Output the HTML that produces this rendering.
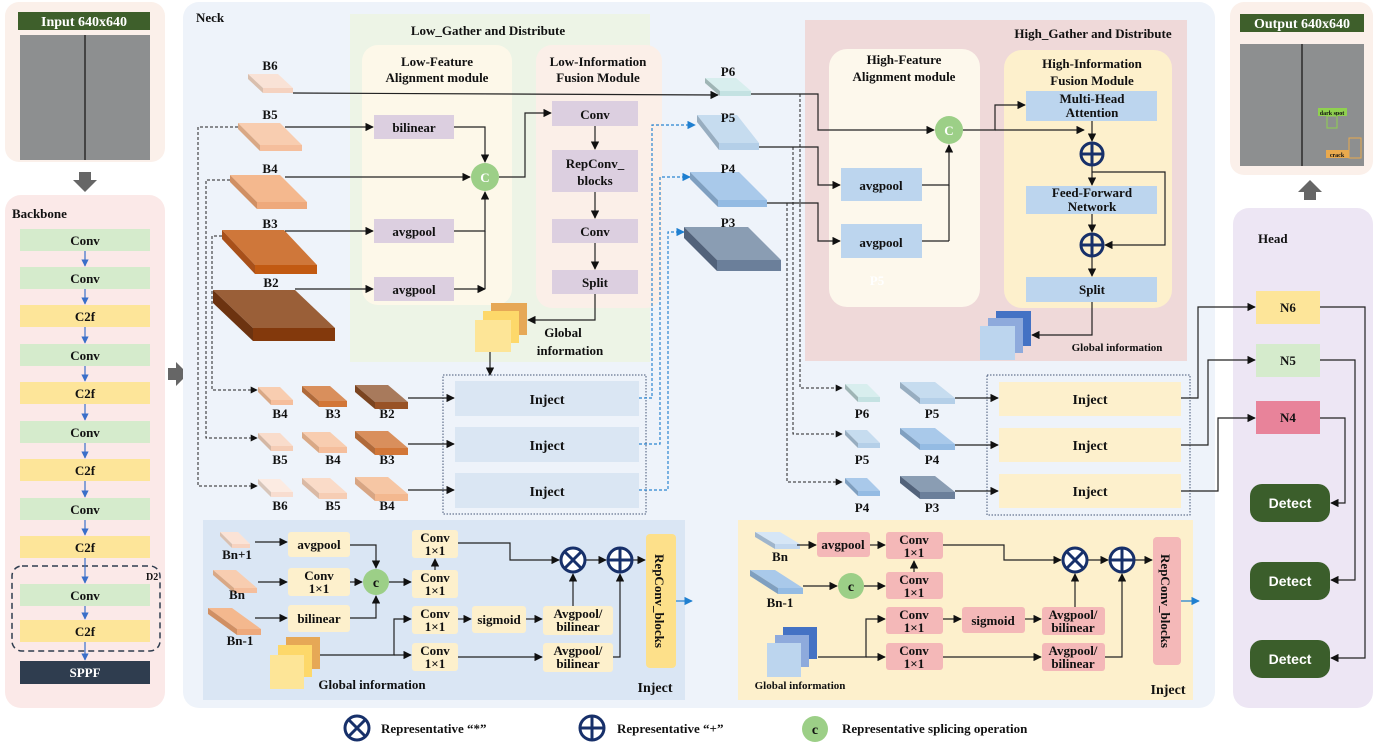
<!DOCTYPE html>
<html><head><meta charset="utf-8"><style>
body{margin:0;background:#fff}
svg{display:block}
text{font-family:"Liberation Serif",serif;font-weight:bold;fill:#111}
.s{font-size:13px}
.m{font-size:14px}
.c{text-anchor:middle}
.ln{stroke:#222;stroke-width:1.2;fill:none}
.dl{stroke:#222;stroke-width:1;fill:none;stroke-dasharray:3,2}
.bl{stroke:#2a85d0;stroke-width:1.2;fill:none;stroke-dasharray:3,2}
</style></head><body>
<svg width="1378" height="749" viewBox="0 0 1378 749" xmlns="http://www.w3.org/2000/svg">
<defs>
<marker id="a" viewBox="0 0 10 10" refX="9" refY="5" markerWidth="7" markerHeight="7" orient="auto"><path d="M0,0L10,5L0,10z" fill="#111"/></marker>
<marker id="b" viewBox="0 0 10 10" refX="9" refY="5" markerWidth="7" markerHeight="7" orient="auto"><path d="M0,0L10,5L0,10z" fill="#1f7fd0"/></marker>
<marker id="g" viewBox="0 0 10 10" refX="9" refY="5" markerWidth="6" markerHeight="6" orient="auto"><path d="M0,0L10,5L0,10z" fill="#3a6fc9"/></marker>
</defs>
<rect width="1378" height="749" fill="#fff"/>

<!-- Input -->
<rect x="5" y="2" width="160" height="160" rx="14" fill="#fbf0ea"/>
<rect x="18" y="12" width="132" height="18" fill="#3e5f2b"/>
<text x="84" y="26" class="m c" style="fill:#fff">Input 640x640</text>
<rect x="20" y="35" width="130" height="125" fill="#8d8f90"/>
<line x1="85" y1="35" x2="85" y2="160" stroke="#444" stroke-width="2"/>
<polygon points="79,172 91,172 91,180 97,180 85,192 73,180 79,180" fill="#666"/>

<!-- Backbone -->
<rect x="5" y="195" width="160" height="513" rx="16" fill="#fbe9e8"/>
<text x="12" y="218" class="s">Backbone</text>
<g class="s c">
<rect x="20" y="229" width="130" height="22" fill="#d5ebcc"/><text x="85" y="245">Conv</text>
<rect x="20" y="267" width="130" height="22" fill="#d5ebcc"/><text x="85" y="283">Conv</text>
<rect x="20" y="305" width="130" height="22" fill="#fde599"/><text x="85" y="321">C2f</text>
<rect x="20" y="344" width="130" height="22" fill="#d5ebcc"/><text x="85" y="360">Conv</text>
<rect x="20" y="382" width="130" height="22" fill="#fde599"/><text x="85" y="398">C2f</text>
<rect x="20" y="421" width="130" height="22" fill="#d5ebcc"/><text x="85" y="437">Conv</text>
<rect x="20" y="459" width="130" height="22" fill="#fde599"/><text x="85" y="475">C2f</text>
<rect x="20" y="498" width="130" height="22" fill="#d5ebcc"/><text x="85" y="514">Conv</text>
<rect x="20" y="536" width="130" height="22" fill="#fde599"/><text x="85" y="552">C2f</text>
<rect x="20" y="584" width="130" height="22" fill="#d5ebcc"/><text x="85" y="600">Conv</text>
<rect x="20" y="620" width="130" height="22" fill="#fde599"/><text x="85" y="636">C2f</text>
<rect x="20" y="661" width="130" height="23" fill="#2f3d4f"/><text x="85" y="677" style="fill:#fff">SPPF</text>
</g>
<rect x="12" y="566" width="148" height="85" rx="10" fill="none" stroke="#2f3d4f" stroke-width="1.5" stroke-dasharray="6,4"/>
<text x="146" y="580" style="font-size:10px">D2</text>
<g stroke="#3a6fc9" stroke-width="1.2" marker-end="url(#g)">
<line x1="85" y1="251" x2="85" y2="266"/><line x1="85" y1="289" x2="85" y2="304"/><line x1="85" y1="327" x2="85" y2="343"/><line x1="85" y1="366" x2="85" y2="381"/><line x1="85" y1="404" x2="85" y2="420"/><line x1="85" y1="443" x2="85" y2="458"/><line x1="85" y1="481" x2="85" y2="497"/><line x1="85" y1="520" x2="85" y2="535"/><line x1="85" y1="558" x2="85" y2="583"/><line x1="85" y1="606" x2="85" y2="619"/><line x1="85" y1="642" x2="85" y2="660"/>
</g>
<polygon points="168,368 176,368 176,362 188,374 176,386 176,380 168,380" fill="#666"/>

<!-- Neck -->
<rect x="183" y="2" width="1032" height="706" rx="16" fill="#eef3fa"/>
<text x="196" y="22" class="s">Neck</text>
<rect x="350" y="14" width="300" height="348" fill="#edf4e6"/>
<text x="488" y="35" class="s" style="text-anchor:middle">Low_Gather and Distribute</text>
<rect x="362" y="45" width="150" height="260" rx="16" fill="#fdf8e9"/>
<text x="437" y="66" class="s c">Low-Feature</text><text x="437" y="82" class="s c">Alignment module</text>
<rect x="536" y="45" width="126" height="263" rx="16" fill="#fbefe8"/>
<text x="598" y="66" class="s c">Low-Information</text><text x="598" y="82" class="s c">Fusion Module</text>
<g fill="#dccfe0">
<rect x="374" y="115" width="80" height="24"/><rect x="374" y="219" width="80" height="24"/><rect x="374" y="277" width="80" height="24"/>
<rect x="552" y="101" width="86" height="25"/><rect x="552" y="150" width="86" height="42"/><rect x="552" y="219" width="86" height="24"/><rect x="552" y="270" width="86" height="24"/>
</g>
<g class="s c">
<text x="414" y="132">bilinear</text><text x="414" y="236">avgpool</text><text x="414" y="294">avgpool</text>
<text x="595" y="119">Conv</text><text x="595" y="168">RepConv_</text><text x="595" y="185">blocks</text><text x="595" y="236">Conv</text><text x="595" y="287">Split</text>
</g>
<circle cx="485" cy="177" r="14" fill="#9ccf87"/><text x="485" y="182" class="s c" style="fill:#fff">C</text>

<!-- B slabs -->
<g>
<polygon points="248,74 278,74 293,88 263,88" fill="#f9e2d6"/><rect x="263" y="88" width="30" height="5" fill="#f5d2c0"/><polygon points="248,74 263,88 263,93 248,79" fill="#d9bfae"/>
<polygon points="238,123 280,123 302,145 260,145" fill="#f8cdb0"/><rect x="260" y="145" width="42" height="6" fill="#f5be9c"/><polygon points="238,123 260,145 260,151 238,129" fill="#d9a885"/>
<polygon points="230,175 280,175 307,202 257,202" fill="#f4b88e"/><rect x="257" y="202" width="50" height="7" fill="#eea97c"/><polygon points="230,175 257,202 257,209 230,182" fill="#d08f63"/>
<polygon points="222,230 284,230 317,265 255,265" fill="#cf773a"/><rect x="255" y="265" width="62" height="9" fill="#c25a12"/><polygon points="222,230 255,265 255,274 222,239" fill="#a8501a"/>
<polygon points="213,290 295,290 335,328 253,328" fill="#9a5f38"/><rect x="253" y="328" width="82" height="13" fill="#83390c"/><polygon points="213,290 253,328 253,341 213,303" fill="#6c3310"/>
</g>
<g class="s c"><text x="270" y="70">B6</text><text x="270" y="119">B5</text><text x="270" y="173">B4</text><text x="270" y="228">B3</text><text x="271" y="287">B2</text></g>

<!-- low lines -->
<g class="ln" marker-end="url(#a)">
<polyline points="293,93 718,95"/>
<polyline points="285,127 373,127"/>
<polyline points="285,177 470,177"/>
<polyline points="285,231 373,231"/>
<polyline points="295,289 373,289"/>
<polyline points="454,127 485,127 485,162"/>
<polyline points="454,231 485,231 485,192"/>
<polyline points="454,289 485,289"/>
<polyline points="499,177 525,177 525,113 551,113"/>
<polyline points="595,126 595,149"/><polyline points="595,192 595,218"/><polyline points="595,243 595,269"/>
<polyline points="595,294 595,320 528,320"/>
<polyline points="490,352 490,375"/>
</g>
<line x1="485" y1="289" x2="485" y2="231" class="ln"/>
<!-- global info yellow -->
<rect x="491" y="303" width="36" height="32" fill="#e6a856"/><rect x="483" y="311" width="36" height="32" fill="#fdd86a"/><rect x="475" y="320" width="36" height="32" fill="#fde597"/>
<text x="563" y="337" class="s c">Global</text><text x="570" y="355" class="s c">information</text>

<!-- dashed left -->
<g class="dl" marker-end="url(#a)">
<polyline points="238,127 198,127 198,486 257,486"/>
<polyline points="230,180 206,180 206,438 257,438"/>
<polyline points="222,236 212,236 212,390 257,390"/>
</g>
<!-- small slabs -->
<g>
<polygon points="258,387 280,387 293,400 271,400" fill="#f8cdb0"/><rect x="271" y="400" width="22" height="5" fill="#f5be9c"/><polygon points="258,387 271,400 271,405 258,392" fill="#d9a885"/>
<polygon points="302,386 330,386 347,401 319,401" fill="#d98f5c"/><rect x="319" y="401" width="28" height="6" fill="#d27637"/><polygon points="302,386 319,401 319,407 302,392" fill="#b06a3a"/>
<polygon points="355,385 388,385 408,402 375,402" fill="#a87a5c"/><rect x="375" y="402" width="33" height="7" fill="#985226"/><polygon points="355,385 375,402 375,409 355,392" fill="#7a4420"/>
<polygon points="258,433 280,433 293,446 271,446" fill="#f9dccb"/><rect x="271" y="446" width="22" height="5" fill="#f5cdb6"/><polygon points="258,433 271,446 271,451 258,438" fill="#d4b7a4"/>
<polygon points="302,432 330,432 347,447 319,447" fill="#f8cdb0"/><rect x="319" y="447" width="28" height="6" fill="#f5be9c"/><polygon points="302,432 319,447 319,453 302,438" fill="#d9a885"/>
<polygon points="355,431 388,431 408,448 375,448" fill="#d98f5c"/><rect x="375" y="448" width="33" height="7" fill="#d27637"/><polygon points="355,431 375,448 375,455 355,438" fill="#b06a3a"/>
<polygon points="258,479 280,479 293,492 271,492" fill="#fcebe2"/><rect x="271" y="492" width="22" height="5" fill="#f8ddd0"/><polygon points="258,479 271,492 271,497 258,484" fill="#d8c6ba"/>
<polygon points="302,478 330,478 347,493 319,493" fill="#fadbc8"/><rect x="319" y="493" width="28" height="6" fill="#f6cdb4"/><polygon points="302,478 319,493 319,499 302,484" fill="#dab9a4"/>
<polygon points="355,477 388,477 408,494 375,494" fill="#f6c6a4"/><rect x="375" y="494" width="33" height="7" fill="#f3b88f"/><polygon points="355,477 375,494 375,501 355,484" fill="#d8a583"/>
</g>
<g class="s c">
<text x="280" y="418">B4</text><text x="333" y="418">B3</text><text x="387" y="418">B2</text>
<text x="280" y="464">B5</text><text x="333" y="464">B4</text><text x="387" y="464">B3</text>
<text x="280" y="510">B6</text><text x="333" y="510">B5</text><text x="387" y="510">B4</text>
</g>
<rect x="443" y="375" width="203" height="139" fill="none" stroke="#445577" stroke-width="1" stroke-dasharray="1.5,1.5"/>
<g fill="#dae6f3"><rect x="455" y="381" width="184" height="35"/><rect x="455" y="427" width="184" height="35"/><rect x="455" y="473" width="184" height="35"/></g>
<g class="m c"><text x="547" y="404">Inject</text><text x="547" y="450">Inject</text><text x="547" y="496">Inject</text></g>
<g class="ln" marker-end="url(#a)"><line x1="408" y1="398" x2="454" y2="398"/><line x1="408" y1="444" x2="454" y2="444"/><line x1="408" y1="490" x2="454" y2="490"/></g>
<g class="bl" marker-end="url(#b)">
<polyline points="639,398 652,398 652,125 695,125"/>
<polyline points="639,444 660,444 660,177 690,177"/>
<polyline points="639,490 668,490 668,232 684,232"/>
</g>

<!-- P slabs -->
<polygon points="705,78 736,78 751,91 720,91" fill="#d8eeee"/><rect x="720" y="91" width="31" height="5" fill="#c4e2e2"/><polygon points="705,78 720,91 720,96 705,83" fill="#9fb5b5"/>
<polygon points="697,115 737,115 759,143 719,143" fill="#c6dcef"/><rect x="719" y="143" width="40" height="7" fill="#b4cfe8"/><polygon points="697,115 719,143 719,150 697,122" fill="#97adc0"/>
<polygon points="690,172 739,172 767,200 718,200" fill="#a9c9ea"/><rect x="718" y="200" width="49" height="7" fill="#94bbe3"/><polygon points="690,172 718,200 718,207 690,179" fill="#7f9fc0"/>
<polygon points="684,227 748,227 781,260 717,260" fill="#8a9db3"/><rect x="717" y="260" width="64" height="11" fill="#6b7f9a"/><polygon points="684,227 717,260 717,271 684,238" fill="#52627a"/>
<g class="s c"><text x="728" y="76">P6</text><text x="728" y="122">P5</text><text x="728" y="173">P4</text><text x="728" y="227">P3</text></g>

<!-- High G&D -->
<rect x="805" y="20" width="382" height="341" fill="#efd9d9"/>
<text x="1093" y="38" class="s c">High_Gather and Distribute</text>
<rect x="829" y="49" width="151" height="258" rx="18" fill="#fdf8ec"/>
<text x="904" y="64" class="s c">High-Feature</text><text x="904" y="81" class="s c">Alignment module</text>
<text x="877" y="285" class="s c" style="fill:#fff">P5</text>
<rect x="1004" y="50" width="168" height="258" rx="18" fill="#fdf0cc"/>
<text x="1092" y="68" class="s c">High-Information</text><text x="1092" y="85" class="s c">Fusion Module</text>
<g fill="#bcd5ee"><rect x="1026" y="91" width="131" height="30"/><rect x="1026" y="186" width="131" height="28"/><rect x="1026" y="277" width="131" height="25"/><rect x="841" y="168" width="81" height="33"/><rect x="841" y="224" width="81" height="34"/></g>
<g class="s c"><text x="1092" y="103">Multi-Head</text><text x="1092" y="117">Attention</text><text x="1092" y="197">Feed-Forward</text><text x="1092" y="211">Network</text><text x="1092" y="294">Split</text><text x="881" y="190">avgpool</text><text x="881" y="247">avgpool</text></g>
<circle cx="949" cy="130" r="14" fill="#9ccf87"/><text x="949" y="135" class="s c" style="fill:#fff">C</text>
<g class="ln" marker-end="url(#a)">
<polyline points="751,94 818,94 818,130 934,130"/>
<polyline points="759,147 818,147 818,185 840,185"/>
<polyline points="767,203 818,203 818,241 840,241"/>
<polyline points="922,185 949,185 949,145"/>
<polyline points="963,130 995,130 995,105 1025,105"/>
<polyline points="995,130 1084,130"/>
<polyline points="1092,121 1092,141"/>
<polyline points="1092,166 1092,185"/>
<polyline points="1092,172 1165,172 1165,245 1105,245"/>
<polyline points="1092,214 1092,232"/>
<polyline points="1092,257 1092,276"/>
<polyline points="1092,302 1092,335 1032,335"/>
</g>
<line x1="922" y1="241" x2="949" y2="241" class="ln"/><line x1="949" y1="241" x2="949" y2="185" class="ln"/>
<g fill="#fdf0cc" stroke="#17306a" stroke-width="3"><circle cx="1092" cy="154" r="11"/><circle cx="1092" cy="245" r="11"/></g>
<g stroke="#17306a" stroke-width="3"><line x1="1081" y1="154" x2="1103" y2="154"/><line x1="1092" y1="143" x2="1092" y2="165"/><line x1="1081" y1="245" x2="1103" y2="245"/><line x1="1092" y1="234" x2="1092" y2="256"/></g>
<rect x="996" y="311" width="35" height="35" fill="#4472c4"/><rect x="988" y="318" width="35" height="35" fill="#8eaadc"/><rect x="980" y="326" width="35" height="34" fill="#bcd5ee"/>
<text x="1117" y="351" style="font-size:11px" class="c">Global information</text>

<!-- right dashed -->
<g class="dl" stroke-dasharray="2,2" marker-end="url(#a)">
<polyline points="800,94 800,388 842,388"/>
<polyline points="793,147 793,434 842,434"/>
<polyline points="787,203 787,482 842,482"/>
</g>
<g>
<polygon points="845,384 867,384 880,397 858,397" fill="#d8eeee"/><rect x="858" y="397" width="22" height="5" fill="#c4e2e2"/><polygon points="845,384 858,397 858,402 845,389" fill="#9fb5b5"/>
<polygon points="900,382 935,382 955,398 920,398" fill="#c6dcef"/><rect x="920" y="398" width="35" height="6" fill="#b4cfe8"/><polygon points="900,382 920,398 920,404 900,388" fill="#97adc0"/>
<polygon points="845,430 867,430 880,443 858,443" fill="#c6dcef"/><rect x="858" y="443" width="22" height="5" fill="#b4cfe8"/><polygon points="845,430 858,443 858,448 845,435" fill="#97adc0"/>
<polygon points="900,428 935,428 955,444 920,444" fill="#a9c9ea"/><rect x="920" y="444" width="35" height="6" fill="#94bbe3"/><polygon points="900,428 920,444 920,450 900,434" fill="#7f9fc0"/>
<polygon points="845,478 867,478 880,491 858,491" fill="#a9c9ea"/><rect x="858" y="491" width="22" height="5" fill="#94bbe3"/><polygon points="845,478 858,491 858,496 845,483" fill="#7f9fc0"/>
<polygon points="900,476 935,476 955,492 920,492" fill="#8a9db3"/><rect x="920" y="492" width="35" height="7" fill="#6b7f9a"/><polygon points="900,476 920,492 920,499 900,483" fill="#52627a"/>
</g>
<g class="s c"><text x="862" y="418">P6</text><text x="932" y="418">P5</text><text x="862" y="464">P5</text><text x="932" y="464">P4</text><text x="862" y="512">P4</text><text x="932" y="512">P3</text></g>
<rect x="987" y="375" width="203" height="140" fill="none" stroke="#445577" stroke-width="1" stroke-dasharray="1.5,1.5"/>
<g fill="#fdf0cc"><rect x="999" y="382" width="182" height="34"/><rect x="999" y="428" width="182" height="34"/><rect x="999" y="474" width="182" height="34"/></g>
<g class="m c"><text x="1090" y="404">Inject</text><text x="1090" y="450">Inject</text><text x="1090" y="496">Inject</text></g>
<g class="ln" marker-end="url(#a)"><line x1="955" y1="398" x2="998" y2="398"/><line x1="955" y1="445" x2="998" y2="445"/><line x1="955" y1="491" x2="998" y2="491"/></g>

<!-- Bottom-left inject -->
<rect x="203" y="520" width="482" height="180" fill="#dae6f4"/>
<polygon points="220,532 238,532 250,544 232,544" fill="#fbe3d6"/><rect x="232" y="544" width="18" height="4" fill="#f7d3c0"/><polygon points="220,532 232,544 232,548 220,536" fill="#d9c0b0"/>
<polygon points="213,570 236,570 257,588 234,588" fill="#f8cdb0"/><rect x="234" y="588" width="23" height="5" fill="#f5be9c"/><polygon points="213,570 234,588 234,593 213,575" fill="#d9a885"/>
<polygon points="208,608 232,608 261,629 237,629" fill="#f4b88e"/><rect x="237" y="629" width="24" height="6" fill="#eea97c"/><polygon points="208,608 237,629 237,635 208,614" fill="#d08f63"/>
<g class="s c"><text x="237" y="559">Bn+1</text><text x="237" y="599">Bn</text><text x="240" y="645">Bn-1</text></g>
<g fill="#fdf0cc">
<rect x="288" y="532" width="62" height="25" rx="3"/><rect x="288" y="568" width="62" height="28" rx="3"/><rect x="288" y="605" width="62" height="27" rx="3"/>
<rect x="412" y="530" width="46" height="28" rx="3"/><rect x="412" y="570" width="46" height="28" rx="3"/><rect x="412" y="606" width="46" height="28" rx="3"/><rect x="412" y="643" width="46" height="28" rx="3"/>
<rect x="472" y="606" width="54" height="27" rx="3"/><rect x="543" y="606" width="70" height="29" rx="3"/><rect x="543" y="643" width="70" height="29" rx="3"/>
</g>
<rect x="646" y="534" width="30" height="134" rx="4" fill="#fde08a"/>
<text transform="translate(655,601) rotate(90)" class="s c">RepConv_blocks</text>
<g class="s c">
<text x="319" y="549">avgpool</text><text x="319" y="580">Conv</text><text x="319" y="593">1×1</text><text x="319" y="623">bilinear</text>
<text x="435" y="542">Conv</text><text x="435" y="555">1×1</text><text x="435" y="582">Conv</text><text x="435" y="595">1×1</text>
<text x="435" y="618">Conv</text><text x="435" y="631">1×1</text><text x="435" y="655">Conv</text><text x="435" y="668">1×1</text>
<text x="499" y="624">sigmoid</text><text x="578" y="618">Avgpool/</text><text x="578" y="631">bilinear</text><text x="578" y="655">Avgpool/</text><text x="578" y="668">bilinear</text>
</g>
<circle cx="376" cy="582" r="13" fill="#9ccf87"/><text x="376" y="587" class="m c">c</text>
<rect x="286" y="637" width="34" height="32" fill="#e6a856"/><rect x="278" y="645" width="34" height="32" fill="#fdd86a"/><rect x="270" y="655" width="34" height="34" fill="#fde597"/>
<text x="372" y="689" class="s c">Global information</text>
<text x="655" y="692" class="m c">Inject</text>
<g class="ln" marker-end="url(#a)">
<line x1="255" y1="542" x2="287" y2="542"/><line x1="258" y1="582" x2="287" y2="582"/><line x1="255" y1="618" x2="287" y2="618"/>
<polyline points="350,545 376,545 376,568"/><line x1="350" y1="582" x2="362" y2="582"/><polyline points="350,618 376,618 376,596"/>
<line x1="389" y1="582" x2="411" y2="582"/><line x1="435" y1="570" x2="435" y2="559"/>
<polyline points="458,543 510,543 510,560 559,560"/>
<line x1="586" y1="560" x2="606" y2="560"/><line x1="633" y1="560" x2="645" y2="560"/>
<polyline points="320,655 394,655 394,619 411,619"/><line x1="394" y1="655" x2="411" y2="655"/>
<line x1="458" y1="619" x2="471" y2="619"/><line x1="526" y1="619" x2="542" y2="619"/>
<line x1="573" y1="606" x2="573" y2="574"/>
<line x1="458" y1="657" x2="542" y2="657"/>
<polyline points="613,657 620,657 620,574"/>
</g>
<g fill="#fff" stroke="#17306a" stroke-width="3"><circle cx="573" cy="560" r="12"/><circle cx="620" cy="560" r="12"/></g>
<g stroke="#17306a" stroke-width="3"><line x1="565" y1="552" x2="581" y2="568"/><line x1="581" y1="552" x2="565" y2="568"/><line x1="608" y1="560" x2="632" y2="560"/><line x1="620" y1="548" x2="620" y2="572"/></g>
<line x1="676" y1="601" x2="692" y2="601" stroke="#1f7fd0" stroke-width="1.2" marker-end="url(#b)"/>

<!-- Bottom-right inject -->
<rect x="738" y="520" width="455" height="180" fill="#fdf0cc"/>
<polygon points="755,532 780,532 800,544 775,544" fill="#d6e6f6"/><rect x="775" y="544" width="25" height="5" fill="#c3d8ef"/><polygon points="755,532 775,544 775,549 755,537" fill="#9fb5cc"/>
<polygon points="750,570 775,570 803,588 778,588" fill="#a9c9ea"/><rect x="778" y="588" width="25" height="6" fill="#94bbe3"/><polygon points="750,570 778,588 778,594 750,576" fill="#7f9fc0"/>
<g class="s c"><text x="780" y="561">Bn</text><text x="780" y="607">Bn-1</text></g>
<g fill="#f4b8b8">
<rect x="817" y="532" width="53" height="25" rx="3"/><rect x="886" y="532" width="57" height="27" rx="3"/><rect x="886" y="572" width="57" height="27" rx="3"/><rect x="886" y="607" width="57" height="27" rx="3"/><rect x="886" y="643" width="57" height="27" rx="3"/>
<rect x="962" y="607" width="63" height="26" rx="3"/><rect x="1042" y="607" width="63" height="28" rx="3"/><rect x="1042" y="643" width="63" height="28" rx="3"/>
<rect x="1153" y="537" width="28" height="128" rx="4"/>
</g>
<text transform="translate(1161,601) rotate(90)" class="s c">RepConv_blocks</text>
<g class="s c">
<text x="843" y="549">avgpool</text>
<text x="914" y="544">Conv</text><text x="914" y="557">1×1</text><text x="914" y="584">Conv</text><text x="914" y="597">1×1</text>
<text x="914" y="619">Conv</text><text x="914" y="632">1×1</text><text x="914" y="655">Conv</text><text x="914" y="668">1×1</text>
<text x="993" y="625">sigmoid</text><text x="1073" y="619">Avgpool/</text><text x="1073" y="632">bilinear</text><text x="1073" y="655">Avgpool/</text><text x="1073" y="668">bilinear</text>
</g>
<circle cx="851" cy="586" r="13" fill="#9ccf87"/><text x="851" y="591" class="m c">c</text>
<rect x="783" y="627" width="34" height="32" fill="#4472c4"/><rect x="775" y="635" width="34" height="32" fill="#8eaadc"/><rect x="767" y="643" width="34" height="34" fill="#bcd5ee"/>
<text x="800" y="689" style="font-size:11px" class="c">Global information</text>
<text x="1168" y="694" class="m c">Inject</text>
<g class="ln" marker-end="url(#a)">
<line x1="797" y1="545" x2="816" y2="545"/><line x1="870" y1="545" x2="885" y2="545"/>
<line x1="803" y1="586" x2="837" y2="586"/><line x1="864" y1="586" x2="885" y2="586"/>
<line x1="914" y1="572" x2="914" y2="561"/>
<polyline points="943,545 1004,545 1004,560 1061,560"/>
<line x1="1088" y1="560" x2="1108" y2="560"/><line x1="1135" y1="560" x2="1152" y2="560"/>
<polyline points="818,657 866,657 866,619 885,619"/><line x1="866" y1="657" x2="885" y2="657"/>
<line x1="943" y1="619" x2="961" y2="619"/><line x1="1025" y1="619" x2="1041" y2="619"/>
<line x1="1075" y1="607" x2="1075" y2="574"/>
<line x1="943" y1="657" x2="1041" y2="657"/>
<polyline points="1105,657 1122,657 1122,574"/>
</g>
<g fill="#fff" stroke="#17306a" stroke-width="3"><circle cx="1075" cy="560" r="12"/><circle cx="1122" cy="560" r="12"/></g>
<g stroke="#17306a" stroke-width="3"><line x1="1067" y1="552" x2="1083" y2="568"/><line x1="1083" y1="552" x2="1067" y2="568"/><line x1="1110" y1="560" x2="1134" y2="560"/><line x1="1122" y1="548" x2="1122" y2="572"/></g>
<line x1="1181" y1="601" x2="1199" y2="601" stroke="#1f7fd0" stroke-width="1.2" marker-end="url(#b)"/>

<!-- Output -->
<rect x="1230" y="2" width="143" height="173" rx="14" fill="#fbf0ea"/>
<rect x="1240" y="14" width="124" height="18" fill="#3e5f2b"/>
<text x="1302" y="28" class="m c" style="fill:#fff">Output 640x640</text>
<rect x="1240" y="44" width="124" height="122" fill="#8d8f90"/>
<line x1="1302" y1="44" x2="1302" y2="166" stroke="#444" stroke-width="2"/>
<rect x="1318" y="108" width="29" height="8" fill="#8fd14f"/><text x="1332" y="115" style="font-size:6px" class="c">dark spot</text>
<rect x="1327" y="116" width="10" height="12" fill="none" stroke="#8fd14f"/>
<rect x="1326" y="150" width="23" height="8" fill="#e9a94d"/><text x="1337" y="157" style="font-size:6px" class="c">crack</text>
<rect x="1349" y="138" width="12" height="20" fill="none" stroke="#e9a94d"/>
<polygon points="1310,180 1322,192 1316,192 1316,200 1304,200 1304,192 1298,192" fill="#666"/>

<!-- Head -->
<rect x="1233" y="208" width="140" height="500" rx="16" fill="#ede6f4"/>
<text x="1258" y="243" class="s">Head</text>
<rect x="1256" y="291" width="64" height="33" fill="#fde599"/><text x="1288" y="312" class="s c">N6</text>
<rect x="1256" y="344" width="64" height="33" fill="#d5ebcc"/><text x="1288" y="365" class="s c">N5</text>
<rect x="1256" y="401" width="64" height="33" fill="#e8839a"/><text x="1288" y="422" class="s c">N4</text>
<g fill="#3b5e2b"><rect x="1250" y="484" width="80" height="38" rx="12"/><rect x="1250" y="562" width="80" height="38" rx="12"/><rect x="1250" y="640" width="80" height="38" rx="12"/></g>
<g style="font-family:'Liberation Sans',sans-serif;font-size:14px" class="c"><text x="1290" y="508" style="fill:#fff;font-family:'Liberation Sans',sans-serif">Detect</text><text x="1290" y="586" style="fill:#fff;font-family:'Liberation Sans',sans-serif">Detect</text><text x="1290" y="664" style="fill:#fff;font-family:'Liberation Sans',sans-serif">Detect</text></g>
<g class="ln" marker-end="url(#a)">
<polyline points="1181,398 1198,398 1198,307 1255,307"/>
<polyline points="1181,445 1208,445 1208,360 1255,360"/>
<polyline points="1181,491 1218,491 1218,418 1255,418"/>
<polyline points="1320,307 1365,307 1365,658 1331,658"/>
<polyline points="1320,360 1355,360 1355,580 1331,580"/>
<polyline points="1320,418 1345,418 1345,503 1331,503"/>
</g>

<!-- Legend -->
<g fill="#fff" stroke="#17306a" stroke-width="3"><circle cx="357" cy="728" r="12"/><circle cx="592" cy="728" r="12"/></g>
<g stroke="#17306a" stroke-width="3"><line x1="349" y1="720" x2="365" y2="736"/><line x1="365" y1="720" x2="349" y2="736"/><line x1="580" y1="728" x2="604" y2="728"/><line x1="592" y1="716" x2="592" y2="740"/></g>
<circle cx="815" cy="729" r="13" fill="#9ccf87"/><text x="815" y="734" class="m c">c</text>
<text x="381" y="733" class="s">Representative “*”</text>
<text x="617" y="733" class="s">Representative “+”</text>
<text x="842" y="733" class="s">Representative splicing operation</text>
</svg>
</body></html>
